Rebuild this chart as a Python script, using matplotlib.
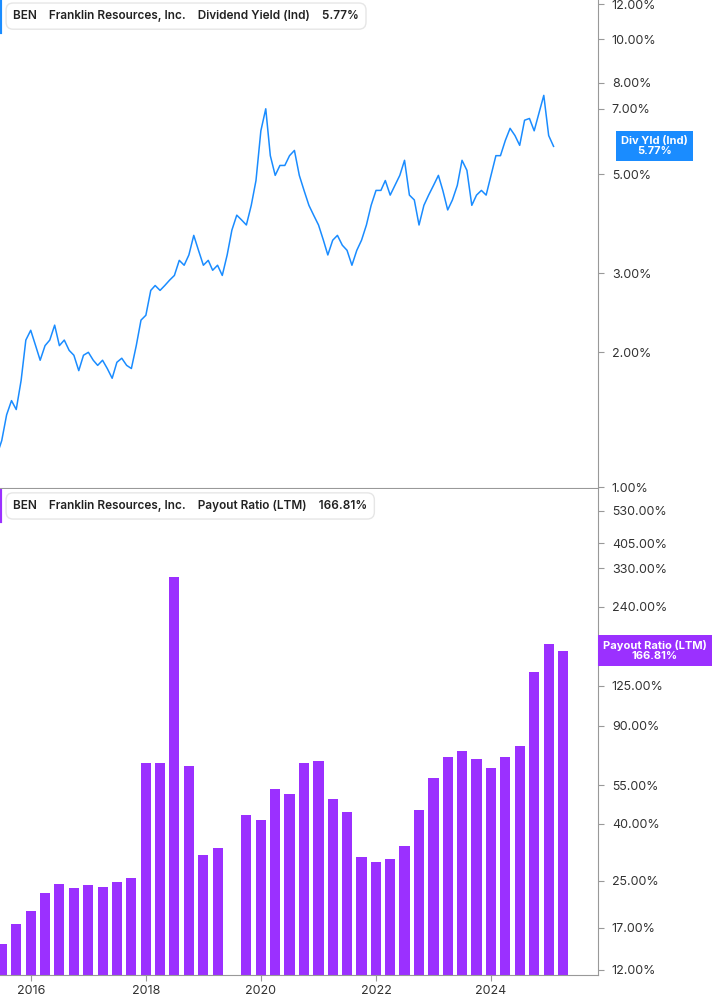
import numpy as np
import pandas as pd
import matplotlib
matplotlib.use("Agg")
import matplotlib.pyplot as plt
from matplotlib.ticker import FixedLocator, NullLocator

plt.rcParams["font.family"] = "Inter"

# monthly dividend yield (%), Jun 2015 .. Jun 2025
yield_dates = pd.date_range("2015-06-01", periods=117, freq="MS")
yield_vals = [
    1.18, 1.27, 1.45, 1.56, 1.49, 1.73, 2.13, 2.24, 2.07, 1.92,
    2.07, 2.13, 2.30, 2.07, 2.13, 2.02, 1.97, 1.82, 1.97, 2.00,
    1.92, 1.87, 1.92, 1.84, 1.75, 1.90, 1.94, 1.87, 1.84, 2.07,
    2.36, 2.42, 2.75, 2.82, 2.75, 2.82, 2.90, 2.97, 3.21, 3.13,
    3.30, 3.65, 3.38, 3.13, 3.21, 3.05, 3.13, 2.97, 3.30, 3.75,
    4.05, 3.95, 3.85, 4.26, 4.84, 6.25, 7.00, 5.50, 4.97, 5.23,
    5.23, 5.50, 5.65, 4.97, 4.60, 4.26, 4.05, 3.85, 3.56, 3.30,
    3.56, 3.65, 3.47, 3.38, 3.13, 3.38, 3.56, 3.85, 4.26, 4.60,
    4.60, 4.84, 4.49, 4.72, 4.97, 5.37, 4.49, 4.38, 3.85, 4.26,
    4.49, 4.72, 4.97, 4.60, 4.16, 4.38, 4.72, 5.37, 5.10, 4.26,
    4.49, 4.60, 4.49, 4.97, 5.50, 5.50, 5.95, 6.33, 6.10, 5.80,
    6.60, 6.66, 6.25, 6.86, 7.50, 6.10, 5.77,
]

# quarterly payout ratio (%), NaN = missing quarter
payout_dates = pd.date_range("2015-07-01", periods=40, freq="QS")
payout_vals = [
    14.8, 17.5, 19.5, 22.6, 24.4, 23.6, 24.2, 23.8, 24.7, 25.6,
    66.3, 66.3, 307, 64.4, 31.0, 32.8, np.nan, 43.0, 41.4, 53.5,
    51.3, 66.3, 67.3, 49.2, 44.2, 30.5, 29.3, 30.0, 33.4, 44.9,
    58.5, 69.5, 73.0, 68.4, 63.5, 69.5, 76.2, 140, 177, 167,
]

top_ticks = [1, 2, 3, 5, 7, 8, 10, 12]
bot_ticks = [12, 17, 25, 40, 55, 90, 125, 240, 330, 405, 530]
year_ticks = ["2016", "2018", "2020", "2022", "2024"]

blue = "#1a8cff"
purple = "#9b30ff"
grey = "#999999"
xmin, xmax = pd.Timestamp("2015-06-20"), pd.Timestamp("2025-11-10")

fig = plt.figure(figsize=(7.17, 10.05), dpi=100)
ax1 = fig.add_axes([0.0, 0.5144, 0.834, 0.4856])
ax2 = fig.add_axes([0.0, 0.0299, 0.834, 0.4836])

for ax in (ax1, ax2):
    ax.set_yscale("log")
    ax.set_xlim(xmin, xmax)
    ax.yaxis.tick_right()
    ax.yaxis.set_minor_locator(NullLocator())
    for s in ("top", "left"):
        ax.spines[s].set_visible(False)
    for s in ("right", "bottom"):
        ax.spines[s].set_color(grey)
    ax.tick_params(axis="y", length=4, color=grey, labelsize=9, labelcolor="#333333", pad=6)

# top: dividend yield
ax1.plot(yield_dates, yield_vals, color=blue, lw=1.1)
ax1.set_ylim(0.995, 12.25)
ax1.yaxis.set_major_locator(FixedLocator(top_ticks))
ax1.set_yticklabels([f"{t:.2f}%" for t in top_ticks])
ax1.set_xticks([])
ax1.text(1.095, 5.77, "Div Yld (Ind)\n5.77%", transform=ax1.get_yaxis_transform(),
         ha="center", va="center", multialignment="center", fontsize=8, color="white",
         fontweight="bold", linespacing=1.0,
         bbox=dict(boxstyle="square,pad=0.45", fc=blue, ec="none"))
ax1.text(0.022, 0.967, "BEN    Franklin Resources, Inc.    Dividend Yield (Ind)    5.77%",
         transform=ax1.transAxes, fontsize=8.5, fontweight="semibold", color="#222222",
         va="center", bbox=dict(boxstyle="round,pad=0.6", fc="white", ec="#e6e6e6"))
ax1.axvline(xmin, ymin=0.935, ymax=1.0, color=blue, lw=3)

# bottom: payout ratio
ax2.set_ylim(11.5, 635)
ax2.bar(payout_dates, np.array(payout_vals) - 11.5, bottom=11.5, width=64, color=purple)
ax2.yaxis.set_major_locator(FixedLocator(bot_ticks))
ax2.set_yticklabels([f"{t:.2f}%" for t in bot_ticks])
ax2.set_xticks([pd.Timestamp(f"{y}-01-01") for y in year_ticks])
ax2.set_xticklabels(year_ticks)
ax2.tick_params(axis="x", length=4, color=grey, labelsize=9, labelcolor="#333333")
ax2.text(1.095, 166.81, "Payout Ratio (LTM)\n166.81%", transform=ax2.get_yaxis_transform(),
         ha="center", va="center", multialignment="center", fontsize=8, color="white",
         fontweight="bold", linespacing=1.0,
         bbox=dict(boxstyle="square,pad=0.45", fc=purple, ec="none"))
ax2.text(0.022, 0.965, "BEN    Franklin Resources, Inc.    Payout Ratio (LTM)    166.81%",
         transform=ax2.transAxes, fontsize=8.5, fontweight="semibold", color="#222222",
         va="center", bbox=dict(boxstyle="round,pad=0.6", fc="white", ec="#e6e6e6"))
ax2.axvline(xmin, ymin=0.935, ymax=0.995, color=purple, lw=3)

fig.savefig("out.png", dpi=100)
